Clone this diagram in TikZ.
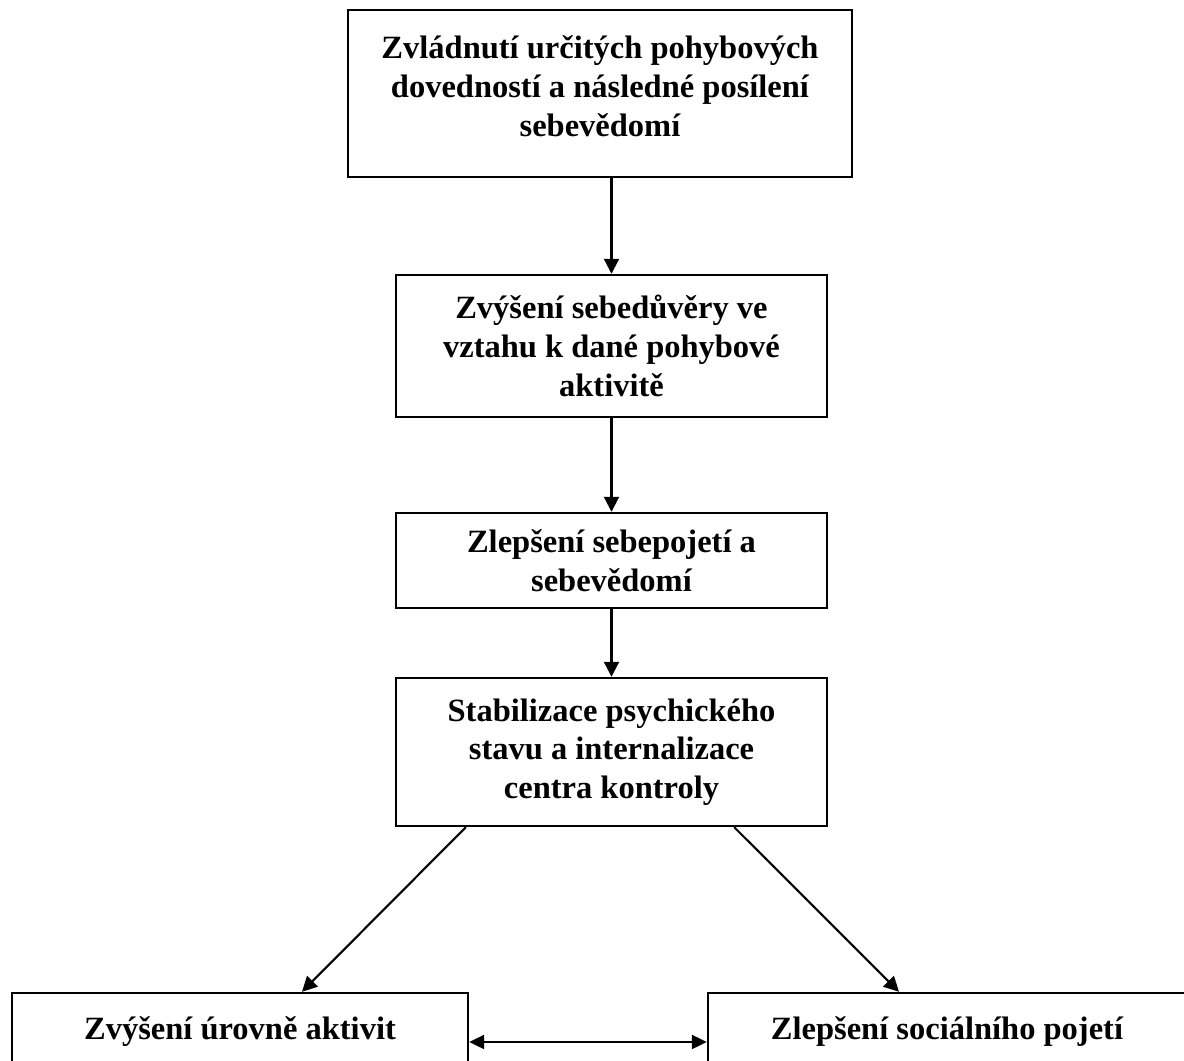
\documentclass[tikz,border=0pt]{standalone}
\usepackage{fontspec}
\setmainfont{Liberation Serif}
\usetikzlibrary{arrows.meta, positioning, calc}

\begin{document}
\begin{tikzpicture}[
    x=0.02cm, y=-0.02cm,
    stage/.style={rectangle, align=center, draw=black, line width=1.4pt, fill=white, inner sep=0pt, font=\fontsize{18.5}{22}\selectfont\bfseries},
    line/.style={draw=black, line width=1.2pt, -{Triangle[length=3mm, width=3mm]}},
    twoway/.style={draw=black, line width=1.2pt, {Triangle[length=3mm, width=2.8mm]}-{Triangle[length=3mm, width=2.8mm]}}
]
    \clip (0,0) rectangle (1184,1061);

    \node[stage, minimum width=10.08cm, minimum height=3.34cm] (mastery) at (600,93.5) {Zvládnutí určitých pohybových\\dovedností a následné posílení\\sebevědomí\\[-0.47cm]};
    \node[stage, minimum width=8.62cm, minimum height=2.84cm] (confidence) at (611.5,346) {Zvýšení sebedůvěry ve\\vztahu k dané pohybové\\aktivitě};
    \node[stage, minimum width=8.62cm, minimum height=1.9cm] (selfconcept) at (611.5,560.5) {Zlepšení sebepojetí a\\sebevědomí};
    \node[stage, minimum width=8.62cm, minimum height=2.96cm] (stability) at (611.5,752) {Stabilizace psychického\\stavu a internalizace\\centra kontroly};
    \node[stage, minimum width=9.12cm, minimum height=1.96cm, text depth=0.54cm] (activity) at (240,1042) {Zvýšení úrovně aktivit};
    \node[stage, minimum width=9.56cm, minimum height=1.96cm, text depth=0.54cm] (social) at (947,1042) {Zlepšení sociálního pojetí};

    % Connectors
    \coordinate (s1) at ([xshift=1.42cm]stability.south west);
    \coordinate (s2) at ([xshift=-1.88cm]stability.south east);
    \coordinate (t1) at ([xshift=1.24cm]activity.north);
    \coordinate (t2) at ([xshift=-0.96cm]social.north);
    \draw[line] (confidence.north |- mastery.south) -- (confidence.north);
    \draw[line] (confidence) -- (selfconcept);
    \draw[line] (selfconcept) -- (stability);
    \draw[line] (s1) -- (t1);
    \draw[line] (s2) -- (t2);
    \draw[twoway] (activity.east) -- (social.west);
\end{tikzpicture}
\end{document}
